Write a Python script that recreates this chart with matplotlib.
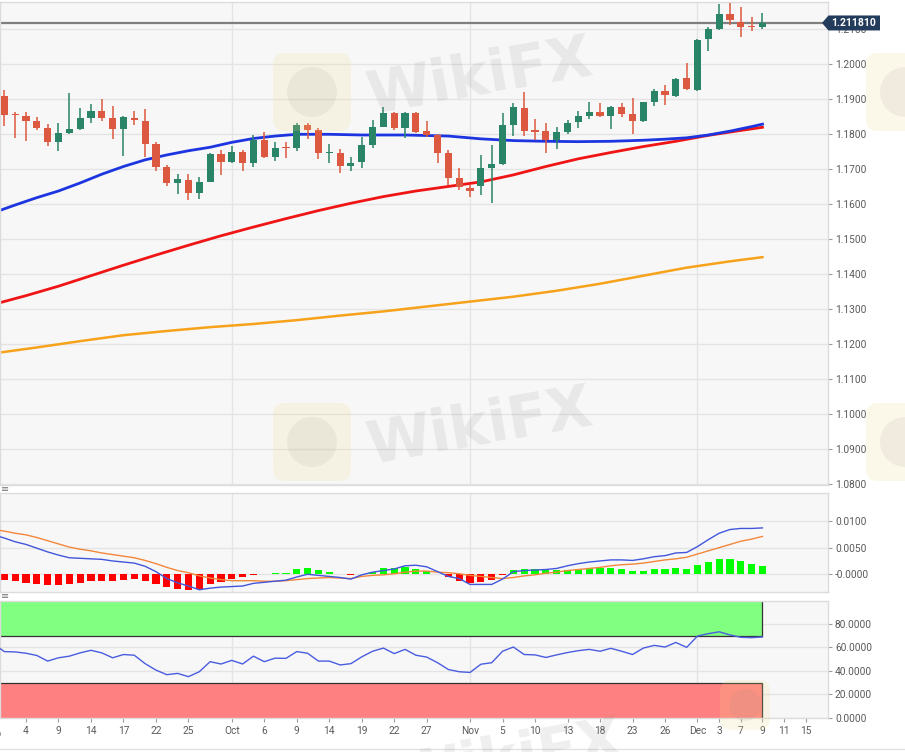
import numpy as np
import pandas as pd
import matplotlib
matplotlib.use("Agg")
import matplotlib.pyplot as plt
from matplotlib.patches import Rectangle, Polygon, FancyBboxPatch, Circle
from matplotlib.lines import Line2D
from matplotlib.transforms import IdentityTransform

plt.rcParams['font.family'] = ['Roboto', 'DejaVu Sans']

W, H = 905, 752

# trading days on the x axis (one slot per weekday)
TRADING_DAYS = pd.bdate_range("2020-09-01", "2020-12-15")
CANDLE_START = "2020-09-02"

# EUR/USD daily candles, 2 Sep .. 9 Dec 2020
OPENS = [1.1910, 1.1859, 1.1852, 1.1838, 1.1817, 1.1778, 1.1803, 1.1814, 1.1847, 1.1867,
         1.1847, 1.1815, 1.1847, 1.1839, 1.1771, 1.1707, 1.1660, 1.1669, 1.1633, 1.1665,
         1.1744, 1.1721, 1.1750, 1.1717, 1.1784, 1.1734, 1.1765, 1.1760, 1.1827, 1.1812,
         1.1746, 1.1746, 1.1709, 1.1720, 1.1769, 1.1822, 1.1860, 1.1817, 1.1862, 1.1810,
         1.1798, 1.1747, 1.1674, 1.1647, 1.1652, 1.1703, 1.1715, 1.1827, 1.1874, 1.1812,
         1.1809, 1.1784, 1.1807, 1.1834, 1.1853, 1.1865, 1.1853, 1.1879, 1.1857, 1.1838,
         1.1891, 1.1924, 1.1910, 1.1962, 1.1927, 1.2071, 1.2101, 1.2144, 1.2120, 1.2109, 1.2107]
HIGHS = [1.1927, 1.1865, 1.1865, 1.1849, 1.1829, 1.1833, 1.1917, 1.1874, 1.1887, 1.1900,
         1.1881, 1.1853, 1.1867, 1.1871, 1.1779, 1.1712, 1.1686, 1.1686, 1.1679, 1.1746,
         1.1755, 1.1767, 1.1755, 1.1798, 1.1807, 1.1779, 1.1779, 1.1833, 1.1831, 1.1817,
         1.1771, 1.1757, 1.1734, 1.1793, 1.1841, 1.1879, 1.1865, 1.1864, 1.1864, 1.1838,
         1.1800, 1.1755, 1.1703, 1.1655, 1.1741, 1.1769, 1.1860, 1.1890, 1.1920, 1.1843,
         1.1833, 1.1822, 1.1841, 1.1867, 1.1893, 1.1889, 1.1880, 1.1890, 1.1905, 1.1893,
         1.1929, 1.1941, 1.1960, 1.2003, 1.2072, 1.2107, 1.2172, 1.2174, 1.2165, 1.2134, 1.2146]
LOWS = [1.1824, 1.1790, 1.1782, 1.1812, 1.1767, 1.1753, 1.1800, 1.1812, 1.1833, 1.1839,
        1.1786, 1.1738, 1.1827, 1.1734, 1.1696, 1.1652, 1.1629, 1.1612, 1.1614, 1.1663,
        1.1684, 1.1717, 1.1696, 1.1706, 1.1731, 1.1725, 1.1731, 1.1753, 1.1786, 1.1729,
        1.1719, 1.1689, 1.1695, 1.1703, 1.1760, 1.1820, 1.1812, 1.1789, 1.1803, 1.1791,
        1.1717, 1.1655, 1.1641, 1.1622, 1.1627, 1.1603, 1.1712, 1.1795, 1.1795, 1.1784,
        1.1747, 1.1757, 1.1801, 1.1817, 1.1843, 1.1850, 1.1814, 1.1850, 1.1801, 1.1836,
        1.1881, 1.1884, 1.1907, 1.1927, 1.1925, 1.2038, 1.2099, 1.2112, 1.2079, 1.2096, 1.2100]
CLOSES = [1.1856, 1.1854, 1.1839, 1.1817, 1.1777, 1.1803, 1.1814, 1.1846, 1.1867, 1.1847,
          1.1815, 1.1849, 1.1840, 1.1772, 1.1707, 1.1660, 1.1671, 1.1631, 1.1665, 1.1744,
          1.1721, 1.1750, 1.1719, 1.1784, 1.1734, 1.1762, 1.1760, 1.1827, 1.1812, 1.1747,
          1.1749, 1.1709, 1.1719, 1.1769, 1.1822, 1.1860, 1.1817, 1.1862, 1.1807, 1.1798,
          1.1747, 1.1675, 1.1650, 1.1639, 1.1703, 1.1715, 1.1827, 1.1879, 1.1810, 1.1807,
          1.1784, 1.1807, 1.1833, 1.1852, 1.1865, 1.1853, 1.1877, 1.1858, 1.1838, 1.1891,
          1.1924, 1.1912, 1.1958, 1.1929, 1.2069, 1.2100, 1.2143, 1.2127, 1.2107, 1.2106, 1.21181]
LAST_PRICE = 1.211810

# moving averages, read at trading-day slots
SMA_FAST_AT = [0, 2, 4, 6, 8, 10, 12, 14, 16, 18, 20, 22, 24, 26, 28, 31, 34, 38, 42, 45,
               48, 51, 54, 57, 60, 62, 64, 66, 68, 70, 71]
SMA_FAST = [1.1576, 1.1598, 1.1619, 1.1638, 1.1661, 1.1686, 1.1708, 1.1727, 1.1741, 1.1753,
            1.1763, 1.1777, 1.1788, 1.1795, 1.1800, 1.1800, 1.1798, 1.1798, 1.1795, 1.1787,
            1.1782, 1.1780, 1.1779, 1.1780, 1.1783, 1.1786, 1.1790, 1.1798, 1.1809, 1.1822, 1.1829]
SMA_MID_AT = [0, 3, 6, 9, 12, 15, 18, 21, 24, 27, 30, 33, 36, 39, 42, 45, 48, 51, 54, 57,
              60, 63, 66, 69, 71]
SMA_MID = [1.1314, 1.1339, 1.1366, 1.1396, 1.1426, 1.1455, 1.1483, 1.1510, 1.1535, 1.1559,
           1.1582, 1.1603, 1.1622, 1.1638, 1.1651, 1.1664, 1.1684, 1.1708, 1.1730, 1.1748,
           1.1765, 1.1780, 1.1797, 1.1811, 1.1820]
SMA_SLOW_AT = [0, 4, 8, 12, 16, 20, 24, 28, 32, 36, 40, 44, 48, 52, 56, 60, 64, 68, 71]
SMA_SLOW = [1.1174, 1.1191, 1.1209, 1.1226, 1.1238, 1.1249, 1.1258, 1.1269, 1.1282, 1.1294,
            1.1308, 1.1322, 1.1336, 1.1353, 1.1373, 1.1396, 1.1419, 1.1437, 1.1449]

# MACD, signal (slots 0..71) and histogram (slots 1..71)
MACD = [0.0074, 0.0068, 0.0061, 0.0056, 0.0049, 0.0042, 0.0036, 0.0031, 0.0030, 0.0029,
        0.0028, 0.0025, 0.0023, 0.0021, 0.0015, 0.0005, -0.0008, -0.0016, -0.0022, -0.0029,
        -0.0026, -0.0024, -0.0023, -0.0022, -0.0017, -0.0015, -0.0013, -0.0011, -0.0005, 0.0000,
        -0.0002, -0.0004, -0.0006, -0.0009, -0.0001, 0.0004, 0.0007, 0.0010, 0.0016, 0.0017,
        0.0014, 0.0005, -0.0004, -0.0008, -0.0019, -0.0019, -0.0019, -0.0009, 0.0005, 0.0007,
        0.0008, 0.0009, 0.0011, 0.0016, 0.0020, 0.0023, 0.0025, 0.0027, 0.0027, 0.0026,
        0.0029, 0.0033, 0.0035, 0.0040, 0.0041, 0.0052, 0.0065, 0.0077, 0.0084, 0.0086,
        0.0086, 0.0087]
SIGNAL = [0.0084, 0.0081, 0.0077, 0.0074, 0.0069, 0.0063, 0.0057, 0.0051, 0.0047, 0.0044,
          0.0040, 0.0037, 0.0034, 0.0031, 0.0026, 0.0020, 0.0013, 0.0007, 0.0003, -0.0003,
          -0.0007, -0.0010, -0.0012, -0.0012, -0.0012, -0.0013, -0.0013, -0.0012, -0.0010, -0.0008,
          -0.0007, -0.0006, -0.0007, -0.0008, -0.0004, -0.0002, -0.0001, 0.0001, 0.0004, 0.0006,
          0.0006, 0.0004, 0.0003, 0.0001, -0.0002, -0.0004, -0.0006, -0.0008, -0.0006, -0.0003,
          -0.0001, 0.0002, 0.0004, 0.0007, 0.0009, 0.0011, 0.0013, 0.0016, 0.0018, 0.0019,
          0.0021, 0.0024, 0.0027, 0.0029, 0.0032, 0.0038, 0.0044, 0.0050, 0.0056, 0.0062,
          0.0066, 0.0071]
HIST = [-0.0011, -0.0013, -0.0016, -0.0018, -0.0021, -0.0021, -0.0019, -0.0017, -0.0013, -0.0012,
        -0.0012, -0.0011, -0.0009, -0.0013, -0.0019, -0.0024, -0.0027, -0.0029, -0.0028, -0.0019,
        -0.0014, -0.0008, -0.0006, -0.0001, 0.0001, 0.0002, 0.0002, 0.0009, 0.0011, 0.0008,
        0.0004, 0.0001, -0.0001, 0.0001, 0.0005, 0.0011, 0.0011, 0.0013, 0.0009, 0.0007,
        0.0001, -0.0006, -0.0012, -0.0017, -0.0014, -0.0011, -0.0001, 0.0008, 0.0010, 0.0010,
        0.0008, 0.0008, 0.0008, 0.0009, 0.0011, 0.0011, 0.0011, 0.0009, 0.0006, 0.0007,
        0.0009, 0.0009, 0.0012, 0.0010, 0.0018, 0.0023, 0.0028, 0.0028, 0.0024, 0.0019, 0.0016]

# RSI, slots 0..71
RSI = [63.0, 56.4, 56.1, 55.0, 53.1, 48.3, 51.1, 52.5, 55.3, 57.5,
       55.3, 51.1, 53.9, 53.3, 46.1, 40.6, 36.7, 37.8, 35.0, 39.2,
       47.8, 45.8, 48.9, 45.8, 52.5, 47.8, 50.8, 50.6, 56.4, 55.0,
       48.3, 48.3, 45.0, 46.1, 51.9, 56.7, 59.4, 54.7, 58.3, 53.3,
       51.7, 46.9, 41.1, 39.2, 38.6, 45.6, 46.9, 56.7, 60.3, 53.9,
       53.6, 51.4, 53.6, 55.6, 57.2, 58.3, 56.7, 59.2, 56.7, 53.9,
       59.4, 61.7, 60.3, 64.2, 60.0, 69.7, 71.7, 73.3, 70.6, 68.6,
       68.3, 68.9]
RSI_HIGH, RSI_LOW = 70, 30

TICK_DATES = ["2020-09-01", "2020-09-04", "2020-09-09", "2020-09-14", "2020-09-17", "2020-09-22",
              "2020-09-25", "2020-10-01", "2020-10-06", "2020-10-09", "2020-10-14", "2020-10-19",
              "2020-10-22", "2020-10-27", "2020-11-02", "2020-11-05", "2020-11-10", "2020-11-13",
              "2020-11-18", "2020-11-23", "2020-11-26", "2020-12-01", "2020-12-03", "2020-12-07",
              "2020-12-09", "2020-12-11", "2020-12-15"]
TICK_LABELS = ["Sep", "4", "9", "14", "17", "22", "25", "Oct", "6", "9", "14", "19", "22", "27",
               "Nov", "5", "10", "13", "18", "23", "26", "Dec", "3", "7", "9", "11", "15"]
MONTH_STARTS = ["2020-10-01", "2020-11-02", "2020-12-01"]

GREEN = "#2a8468"
RED = "#dc5840"
GRID = "#e4e4e4"
PANEL = "#f7f7f7"
TXT = "#5a5a5a"


def slot(d):
    return TRADING_DAYS.get_loc(pd.Timestamp(d))


def px_axes(fig, left, top, right, bottom):
    return fig.add_axes([left / W, 1 - bottom / H, (right - left) / W, (bottom - top) / H])


def style_panel(ax, ticks, labels, lim):
    ax.set_facecolor(PANEL)
    ax.set_xlim(0.6, 77.05)
    ax.set_ylim(*lim)
    ax.yaxis.tick_right()
    ax.set_yticks(ticks)
    ax.set_yticklabels(labels)
    ax.tick_params(axis="y", length=3, width=0.8, color="#9a9a9a", labelcolor=TXT,
                   labelsize=7.3, pad=2)
    ax.tick_params(axis="x", length=0, labelbottom=False)
    ax.set_xticks([])
    ax.grid(axis="y", color=GRID, lw=1)
    ax.set_axisbelow(True)
    for s in ax.spines.values():
        s.set_color("#dcdcdc")
        s.set_linewidth(1)
    for d in MONTH_STARTS:
        ax.axvline(slot(d), color=GRID, lw=1, zorder=0)


fig = plt.figure(figsize=(W / 100, H / 100), dpi=100)
fig.patch.set_facecolor("white")

# ---- price panel
ax = px_axes(fig, 0, 2, 828, 485)
price_ticks = np.round(np.arange(1.08, 1.2150, 0.01), 2)
style_panel(ax, price_ticks, ["%.4f" % v for v in price_ticks], (1.0798, 1.2178))

ax.axhline(LAST_PRICE, color="#7f7f7f", lw=1.6, zorder=1)
ax.plot(SMA_SLOW_AT, SMA_SLOW, color="#f7a21b", lw=1.8, zorder=2)
ax.plot(SMA_MID_AT, SMA_MID, color="#f01515", lw=2.0, zorder=2)
ax.plot(SMA_FAST_AT, SMA_FAST, color="#1c35e0", lw=2.0, zorder=2)

x0 = slot(CANDLE_START)
for i, (o, h, l, c) in enumerate(zip(OPENS, HIGHS, LOWS, CLOSES)):
    x = x0 + i
    col = GREEN if c >= o else RED
    ax.vlines(x, l, h, color=col, lw=1.1, zorder=3)
    ax.bar(x, max(abs(c - o), 0.00012), bottom=min(o, c), width=0.66, color=col, zorder=4)

# last price tag
yd = ax.transData.transform((1, LAST_PRICE))[1]
tag = Polygon([(822, yd), (828.5, yd + 7.5), (880, yd + 7.5), (880, yd - 7.5), (828.5, yd - 7.5)],
              closed=True, facecolor="#233c5c", edgecolor="none", transform=IdentityTransform(),
              zorder=10)
fig.add_artist(tag)
fig.text(854 / W, yd / H, "%.6f" % LAST_PRICE, color="white", fontsize=7.5, fontweight="bold",
         ha="center", va="center", zorder=11)

# ---- MACD panel
axm = px_axes(fig, 0, 492.5, 828, 592)
style_panel(axm, [0, 0.005, 0.01], ["-0.0000", "0.0050", "0.0100"], (-0.00332, 0.01534))
hx = np.arange(x0, x0 + len(HIST))
hcol = ["#00ff00" if v >= 0 else "#ff0000" for v in HIST]
axm.bar(hx, HIST, width=0.66, color=hcol, zorder=2)
axm.plot(np.arange(len(SIGNAL)), SIGNAL, color="#f2873a", lw=1.0, zorder=3)
axm.plot(np.arange(len(MACD)), MACD, color="#4256dc", lw=1.0, zorder=3)

# ---- RSI panel
axr = px_axes(fig, 0, 601, 828, 718)
style_panel(axr, [0, 20, 40, 60, 80], ["%.4f" % v for v in [0, 20, 40, 60, 80]], (-0.3, 99.6))
end = x0 + len(CLOSES) - 1
axr.add_patch(Rectangle((-1, RSI_HIGH), end + 1, 40, facecolor="#80ff80", edgecolor="#333333",
                        lw=0.9, zorder=1))
axr.add_patch(Rectangle((-1, -10), end + 1, RSI_LOW + 10, facecolor="#ff8080",
                        edgecolor="#333333", lw=0.9, zorder=1))
axr.plot(np.arange(len(RSI)), RSI, color="#4a5ce0", lw=1.0, zorder=3)

pos = [slot(d) for d in TICK_DATES]
axr.set_xticks(pos[1:])
axr.set_xticklabels(TICK_LABELS[1:])
axr.tick_params(axis="x", length=3, width=0.8, color="#9a9a9a", labelbottom=True,
                labelcolor=TXT, labelsize=7.3, pad=3)
axr.text(pos[0], -9.5, TICK_LABELS[0], color=TXT, fontsize=7.3, ha="center", va="top",
         clip_on=False)

# panel handles and footer rule
for yy in (489, 596):
    fig.text(1 / W, 1 - yy / H, "\u2261", color="#777777", fontsize=7, va="center",
             family="DejaVu Sans")
fig.add_artist(Line2D([0, 1], [1 - 749 / H] * 2, color="#e2e2e2", lw=1))

# faint watermarks
for (cx, cy) in [(480, 78), (480, 428), (510, 760)]:
    fig.text(cx / W, 1 - cy / H, "WikiFX", fontsize=42, fontweight="bold", color="#8a8080",
             alpha=0.13, rotation=10, ha="center", va="center", family="DejaVu Sans")
for (lx, ly, s) in [(312, 92, 78), (312, 442, 78), (905, 92, 78), (905, 442, 78), (745, 705, 50)]:
    fig.add_artist(FancyBboxPatch((lx - s / 2, H - ly - s / 2), s, s,
                                  boxstyle="round,pad=0,rounding_size=12",
                                  transform=IdentityTransform(), facecolor="#f3dc8a",
                                  edgecolor="none", alpha=0.18, zorder=9))
    fig.add_artist(Circle((lx, H - ly), s * 0.32, transform=IdentityTransform(),
                          facecolor="#9a9090", edgecolor="none", alpha=0.12, zorder=9))

fig.savefig("out.png", dpi=100, facecolor="white")
